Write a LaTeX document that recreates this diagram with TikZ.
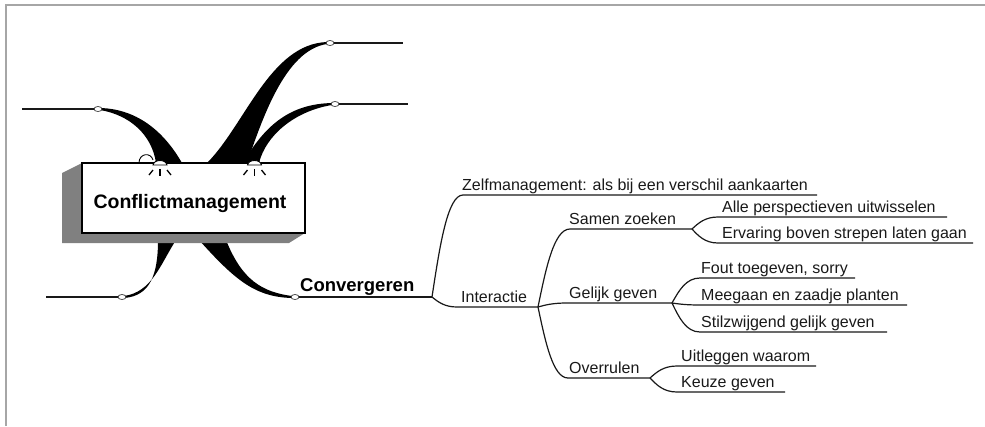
\documentclass[tikz,border=0pt]{standalone}
\usepackage{fontspec}
\setmainfont{Liberation Sans}
\usetikzlibrary{calc,shapes.geometric}
\begin{document}
\begin{tikzpicture}[x=1pt,y=-1pt,
  twig/.style={to path={let \p1=(\tikztostart),\p2=(\tikztotarget) in
      .. controls ({\x1+0.25*(\x2-\x1)},{\y1+0.5*(\y2-\y1)}) and ({\x1+0.5*(\x2-\x1)},\y2) .. (\tikztotarget)}},
  wire/.style={draw=black!90, line width=1.2pt},
  stem/.style={draw=black!90, line width=1.5pt},
  leaf/.style={anchor=base west, inner sep=0pt, text=black!90, font=\fontsize{16}{19}\selectfont},
  knob/.style={ellipse, draw=black!80, fill=white, line width=0.7pt, minimum width=8pt, minimum height=5pt, inner sep=0pt},
  wedge/.style={fill=black},
  ray/.style={draw=black, line width=1.3pt}]

\useasboundingbox (0,0) rectangle (985,426);

% frame
\draw[draw=black!35, line width=2pt] (6,426) -- (6,5) -- (985,5);

% tapered main branches (behind the central box)
\fill[wedge] (156,163) .. controls (152,135) and (130,115) .. (100,110)
  -- (100,108) .. controls (140,109) and (166,135) .. (182,163) -- cycle;
\fill[wedge] (207,163) .. controls (245,125) and (270,44) .. (327,42)
  -- (327,44) .. controls (285,50) and (262,120) .. (247,163) -- cycle;
\fill[wedge] (243,163) .. controls (265,125) and (290,104) .. (332,103)
  -- (332,105) .. controls (295,111) and (266,135) .. (259,163) -- cycle;
\fill[wedge] (158,240) .. controls (158,275) and (150,296) .. (124,298)
  -- (124,296) .. controls (152,292) and (160,265) .. (176,240) -- cycle;
\fill[wedge] (199,240) .. controls (235,280) and (255,297) .. (292,298)
  -- (292,296) .. controls (262,292) and (242,280) .. (226,240) -- cycle;

% central box with extruded shadow
\fill[black!50] (62,173) -- (82,163) -- (82,233) -- (305,233) -- (289,243) -- (62,243) -- cycle;
\node[draw=black, line width=1.8pt, fill=white, minimum width=223pt, minimum height=70pt,
      inner sep=0pt] (root) at (193.5,198) {};
\node[anchor=base, inner sep=0pt, font=\bfseries\fontsize{19.5}{23}\selectfont] (roottext)
  at (190,208) {Conflictmanagement};

% lamps on the box top
\draw[line width=0.9pt] (139,163) .. controls (139,153) and (151,152) .. (153,160);
\foreach \lx in {160,254.5}{
  \draw[line width=0.9pt, fill=white] (\lx-7,165) .. controls (\lx-6,159) and (\lx+6,159) .. (\lx+7,165) -- cycle;
  \draw[ray] (\lx-7,170) -- (\lx-11,175);
  \draw[ray] (\lx,169) -- (\lx,176);
  \draw[ray] (\lx+7,170) -- (\lx+11,175);
}

% branch tips and their lines
\node[knob] (k1) at (98,109) {};
\node[knob] (k2) at (330,43) {};
\node[knob] (k3) at (335,104) {};
\node[knob] (k4) at (122,297) {};
\node[knob] (k5) at (295,297) {};
\coordinate (e1) at (22,109);
\coordinate (e2) at (403,43);
\coordinate (e3) at (408,104);
\coordinate (e4) at (46,297);
\coordinate (j0) at (432,297);
\draw[stem] (k1) -- (e1);
\draw[stem] (k2) -- (e2);
\draw[stem] (k3) -- (e3);
\draw[stem] (k4) -- (e4);
\draw[stem] (k5) -- (j0);
\node[anchor=base west, inner sep=0pt, font=\bfseries\fontsize{18.5}{22}\selectfont] (conv)
  at (300,291) {Convergeren};

% sub-tree of Convergeren
\coordinate (zelfA) at (463,195);  \coordinate (zelfB) at (817,195);
\coordinate (intA) at (457,307);   \coordinate (j1) at (538,307);
\coordinate (samA) at (570,229);   \coordinate (j2) at (692,229);
\coordinate (gelA) at (567,303);   \coordinate (j3) at (672,303);
\coordinate (ovA) at (568,378);    \coordinate (j4) at (650,378);
\coordinate (alA) at (718,217);    \coordinate (alB) at (947,217);
\coordinate (erA) at (718,243);    \coordinate (erB) at (973,243);
\coordinate (foA) at (700,278);    \coordinate (foB) at (855,278);
\coordinate (meA) at (700,305);    \coordinate (meB) at (907,305);
\coordinate (stA) at (700,332);    \coordinate (stB) at (887,332);
\coordinate (uiA) at (677,366);    \coordinate (uiB) at (816,366);
\coordinate (keA) at (677,392);    \coordinate (keB) at (785,392);

\draw[wire] (j0) to[twig] (zelfA) -- (zelfB);
\draw[wire] (j0) to[twig] (intA) -- (j1);
\draw[wire] (j1) to[twig] (samA) -- (j2);
\draw[wire] (j1) to[twig] (gelA) -- (j3);
\draw[wire] (j1) to[twig] (ovA) -- (j4);
\draw[wire] (j2) to[twig] (alA) -- (alB);
\draw[wire] (j2) to[twig] (erA) -- (erB);
\draw[wire] (j3) to[twig] (foA) -- (foB);
\draw[wire] (j3) to[twig] (meA) -- (meB);
\draw[wire] (j3) to[twig] (stA) -- (stB);
\draw[wire] (j4) to[twig] (uiA) -- (uiB);
\draw[wire] (j4) to[twig] (keA) -- (keB);

\node[leaf] (zelf) at (462,190.5) {Zelfmanagement: als bij een verschil aankaarten};
\node[leaf] (int) at (461,302.5) {Interactie};
\node[leaf] (sam) at (569,224.5) {Samen zoeken};
\node[leaf] (gel) at (569,298.5) {Gelijk geven};
\node[leaf] (ov) at (569,373.5) {Overrulen};
\node[leaf] (al) at (722,212.5) {Alle perspectieven uitwisselen};
\node[leaf] (er) at (722,238.5) {Ervaring boven strepen laten gaan};
\node[leaf] (fo) at (701,273.5) {Fout toegeven, sorry};
\node[leaf] (me) at (701,300.5) {Meegaan en zaadje planten};
\node[leaf] (st) at (701,327.5) {Stilzwijgend gelijk geven};
\node[leaf] (ui) at (681,361.5) {Uitleggen waarom};
\node[leaf] (ke) at (681,387.5) {Keuze geven};
\end{tikzpicture}
\end{document}
